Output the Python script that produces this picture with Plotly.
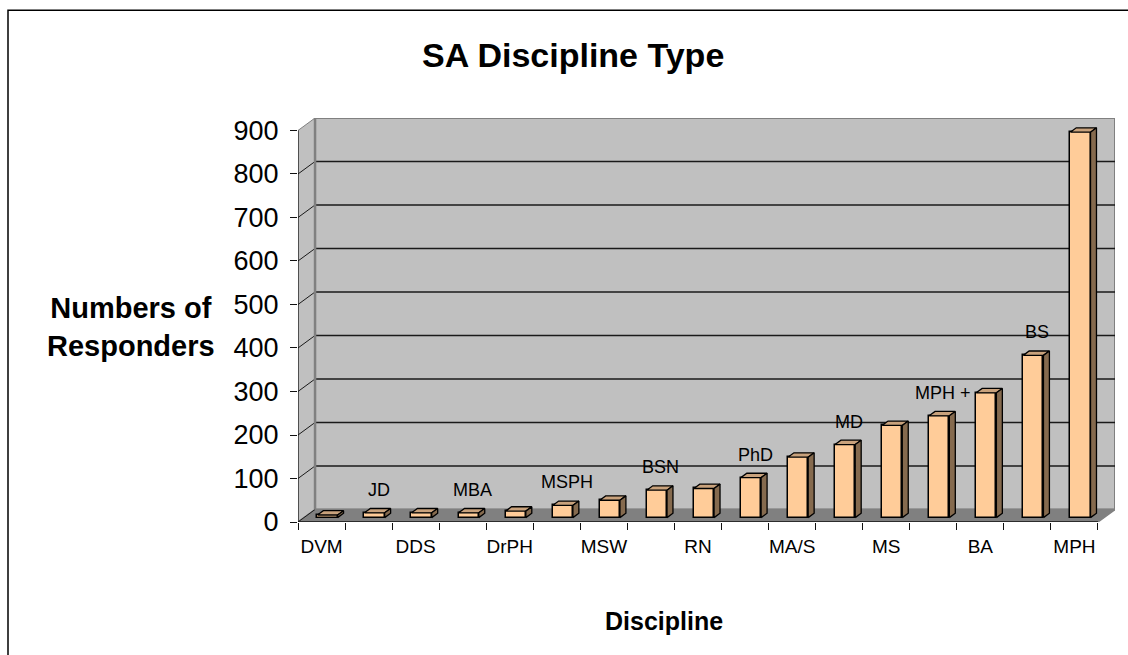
import plotly.graph_objects as go

# ---- data ----
categories = ["DVM", "JD", "DDS", "MBA", "DrPH", "MSPH", "MSW", "BSN", "RN",
              "PhD", "MA/S", "MD", "MS", "MPH +", "BA", "BS", "MPH"]
values = [6, 11, 11, 11, 15, 28, 40, 63, 67, 92, 139, 168, 212, 234, 287, 373, 886]
y_ticks = [0, 100, 200, 300, 400, 500, 600, 700, 800, 900]

title_text = "SA Discipline Type"
y_title = "Numbers of<br>Responders"
x_title = "Discipline"

# ---- geometry / style ----
W, H = 1128, 655
ML, MR, MT, MB = 298, 13, 118, 132.5
FONT = "Liberation Sans, Arial, sans-serif"
n = len(categories)
DX = 0.362        # wall depth in x units
DY = 28.7         # wall depth in y units
BF = 0.35         # bar front position as fraction of depth
BD = 0.35         # bar depth fraction
BW = 0.43         # bar width
YMAX = max(y_ticks)
WALL = "#C0C0C0"
FLOOR = "#808080"
EDGE = "#808080"
FRONT = "#FFCC99"
TOP = "#C9A27C"
SIDE = "#856A4E"

xr = [-0.5, n - 0.5 + DX]
yr = [0, YMAX + DY]

shapes = []
# back wall
shapes.append(dict(type="rect", xref="x", yref="y", x0=-0.5 + DX, x1=n - 0.5 + DX,
                   y0=DY, y1=YMAX + DY, fillcolor=WALL, line=dict(color=EDGE, width=2),
                   layer="below"))
# left side wall
shapes.append(dict(type="path", xref="x", yref="y",
                   path=f"M {-0.5} 0 L {-0.5} {YMAX} L {-0.5 + DX} {YMAX + DY} L {-0.5 + DX} {DY} Z",
                   fillcolor=WALL, line=dict(width=0), layer="below"))
# floor
shapes.append(dict(type="path", xref="x", yref="y",
                   path=f"M {-0.5} 0 L {n - 0.5} 0 L {n - 0.5 + DX} {DY} L {-0.5 + DX} {DY} Z",
                   fillcolor=FLOOR, line=dict(color=EDGE, width=1.5), layer="below"))
# gridlines on back wall and diagonals on side wall
for v in y_ticks:
    if 0 < v < YMAX:
        shapes.append(dict(type="line", xref="x", yref="y", x0=-0.5 + DX, x1=n - 0.5 + DX,
                           y0=v + DY, y1=v + DY, line=dict(color="#1a1a1a", width=1.3),
                           layer="below"))
    shapes.append(dict(type="line", xref="x", yref="y", x0=-0.5, x1=-0.5 + DX,
                       y0=v, y1=v + DY,
                       line=dict(color="#1a1a1a" if v < YMAX else EDGE, width=1),
                       layer="below"))
# left wall back edge (redraw over diagonals)
shapes.append(dict(type="line", xref="x", yref="y", x0=-0.5 + DX, x1=-0.5 + DX,
                   y0=DY, y1=YMAX + DY, line=dict(color=EDGE, width=2.5), layer="below"))
# front axis lines
shapes.append(dict(type="line", xref="x", yref="y", x0=-0.5, x1=-0.5, y0=0, y1=YMAX,
                   line=dict(color="#111111", width=1.3)))
shapes.append(dict(type="line", xref="x", yref="y", x0=-0.5, x1=n - 0.5, y0=0, y1=0,
                   line=dict(color="#111111", width=1.3)))
# chart frame (extends past right and bottom edges)
shapes.append(dict(type="rect", xref="paper", yref="paper",
                   x0=(8 - ML) / (W - ML - MR), x1=1.2,
                   y0=-0.5, y1=(H - 10 - MB) / (H - MT - MB),
                   line=dict(color="black", width=1.5), fillcolor="rgba(0,0,0,0)"))

fig = go.Figure()

centers = [i + BF * DX for i in range(n)]
base = BF * DY
fig.add_trace(go.Bar(x=centers, y=values, base=[base] * n, width=BW,
                     marker=dict(color=FRONT, line=dict(color="black", width=1.5)),
                     hoverinfo="skip", showlegend=False))

# top and side faces
tx, ty, sx, sy = [], [], [], []
for c, v in zip(centers, values):
    l, r = c - BW / 2, c + BW / 2
    t = base + v
    tx += [l, r, r + BD * DX, l + BD * DX, l, None]
    ty += [t, t, t + BD * DY, t + BD * DY, t, None]
    sx += [r, r, r + BD * DX, r + BD * DX, r, None]
    sy += [base, t, t + BD * DY, base + BD * DY, base, None]
fig.add_trace(go.Scatter(x=tx, y=ty, mode="lines", fill="toself", fillcolor=TOP,
                         line=dict(color="black", width=1.3), hoverinfo="skip",
                         showlegend=False))
fig.add_trace(go.Scatter(x=sx, y=sy, mode="lines", fill="toself", fillcolor=SIDE,
                         line=dict(color="black", width=1.3), hoverinfo="skip",
                         showlegend=False, xaxis="x2"))

annotations = []
# labels above odd-index bars
for i, (c, v) in enumerate(zip(centers, values)):
    if i % 2 == 1:
        annotations.append(dict(x=c, y=base + v, xref="x", yref="y", text=categories[i],
                                showarrow=False, yanchor="middle", xanchor="center",
                                xshift=4, yshift=23,
                                font=dict(family=FONT, size=18, color="black")))
annotations.append(dict(x=573 / W, y=1 - 55 / H, xref="paper", yref="paper",
                        text=f"<b>{title_text}</b>", showarrow=False,
                        xanchor="center", yanchor="middle",
                        font=dict(family=FONT, size=34, color="black")))
annotations.append(dict(x=131 / W, y=1 - 327 / H, xref="paper", yref="paper",
                        text=f"<b>{y_title}</b>", showarrow=False, align="center",
                        xanchor="center", yanchor="middle",
                        font=dict(family=FONT, size=29, color="black")))
annotations.append(dict(x=664 / W, y=1 - 622 / H, xref="paper", yref="paper",
                        text=f"<b>{x_title}</b>", showarrow=False,
                        xanchor="center", yanchor="middle",
                        font=dict(family=FONT, size=25, color="black")))
# convert figure-fraction positions to plot-domain paper refs
for a in annotations:
    if a["xref"] == "paper":
        a["x"] = (a["x"] * W - ML) / (W - ML - MR)
        a["y"] = (a["y"] * H - MB) / (H - MT - MB)

fig.update_layout(
    width=W, height=H,
    margin=dict(l=ML, r=MR, t=MT, b=MB, pad=0, autoexpand=False),
    paper_bgcolor="white", plot_bgcolor="white",
    bargap=0, showlegend=False,
    shapes=shapes, annotations=annotations,
    xaxis=dict(range=xr, showgrid=False, zeroline=False, showline=False,
               tickmode="array", tickvals=[i - 0.5 for i in range(n + 1)],
               showticklabels=False, ticks="outside", ticklen=7,
               tickcolor="#111111", tickwidth=1),
    xaxis2=dict(range=xr, overlaying="x", side="bottom", showgrid=False,
                zeroline=False, showline=False, tickmode="array",
                tickvals=[i for i in range(n) if i % 2 == 0],
                ticktext=[categories[i] for i in range(n) if i % 2 == 0],
                ticks="outside", ticklen=7, tickcolor="rgba(0,0,0,0)",
                tickfont=dict(family=FONT, size=19, color="black")),
    yaxis=dict(range=yr, showgrid=False, zeroline=False, showline=False,
               tickmode="array", tickvals=y_ticks, ticks="outside", ticklen=7,
               tickcolor="#111111", tickwidth=1, ticklabelstandoff=6,
               tickfont=dict(family=FONT, size=27, color="black")),
)

fig.write_html("out.html", config={"displayModeBar": False},
               post_script="document.body.style.margin='0px';document.body.style.overflow='hidden';")
